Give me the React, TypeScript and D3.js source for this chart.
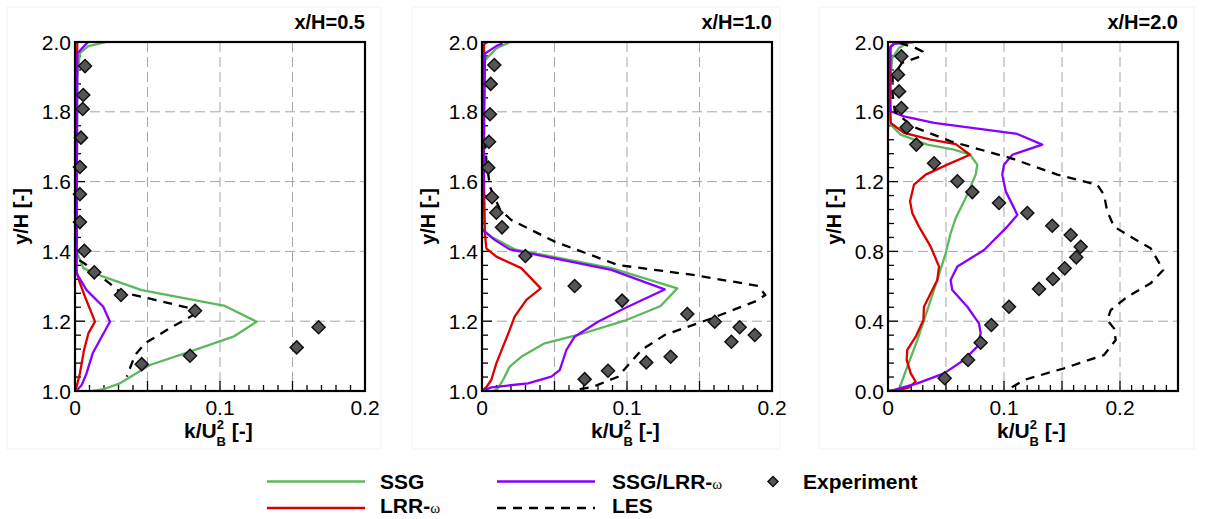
import React from "react";
import * as d3 from "d3";

type Pt = [number, number];

// ---- data: [k/U_B^2, y/H] ----

// x/H = 0.5
const exp05: Pt[] = [
  [0.0069, 1.931], [0.0057, 1.848], [0.0053, 1.808], [0.0041, 1.726], [0.0034, 1.642],
  [0.0034, 1.564], [0.0034, 1.484], [0.0064, 1.402], [0.0133, 1.34], [0.0317, 1.275],
  [0.0828, 1.23], [0.168, 1.1825], [0.1529, 1.125], [0.0793, 1.101], [0.046, 1.077],
];
const ssg05: Pt[] = [
  [0.0218, 2.0], [0.0092, 1.988], [0.0034, 1.968], [0.0016, 1.9], [0.0014, 1.7], [0.0012, 1.5],
  [0.0011, 1.4], [0.0057, 1.352], [0.0195, 1.3275], [0.046, 1.289], [0.1034, 1.2436],
  [0.1253, 1.1986], [0.1092, 1.1556], [0.0793, 1.1126], [0.0517, 1.0745], [0.031, 1.022],
  [0.0195, 1.005], [0.0126, 1.0],
];
const lrr05: Pt[] = [
  [0.0016, 2.0], [0.0012, 1.9], [0.001, 1.6], [0.001, 1.4], [0.0007, 1.347], [0.0034, 1.309],
  [0.0069, 1.27], [0.0138, 1.1986], [0.0092, 1.165], [0.0062, 1.117], [0.0034, 1.051],
  [0.0011, 1.012], [0, 1.0],
];
const hyb05: Pt[] = [
  [0.0092, 2.0], [0.0069, 1.991], [0.0016, 1.967], [0.0014, 1.8], [0.0013, 1.6], [0.0012, 1.45],
  [0.0011, 1.337], [0.008, 1.289], [0.0195, 1.2415], [0.0241, 1.1986], [0.0184, 1.1556],
  [0.0122, 1.108], [0.008, 1.051], [0.0046, 1.017], [0.0011, 1.001],
];
const les05: Pt[] = [
  [0.003, 1.375], [0.008, 1.361], [0.031, 1.2845], [0.0552, 1.261], [0.0793, 1.237],
  [0.0816, 1.2178], [0.0655, 1.18], [0.0483, 1.1367], [0.0414, 1.103], [0.0357, 1.041],
];

// x/H = 1.0
const exp10: Pt[] = [
  [0.0085, 1.934], [0.006, 1.88], [0.0055, 1.793], [0.0048, 1.714], [0.0043, 1.64],
  [0.0069, 1.555], [0.0099, 1.511], [0.0138, 1.469], [0.0299, 1.387], [0.0639, 1.301],
  [0.0966, 1.259], [0.1416, 1.2206], [0.1605, 1.1986], [0.1777, 1.1825], [0.1881, 1.1605],
  [0.172, 1.141], [0.1301, 1.098], [0.1133, 1.082], [0.0869, 1.058], [0.0708, 1.034],
];
const ssg10: Pt[] = [
  [0.0193, 2.0], [0.0101, 1.982], [0.0021, 1.948], [0.0014, 1.8], [0.0012, 1.6], [0, 1.466],
  [0.0064, 1.442], [0.0225, 1.406], [0.0892, 1.352], [0.1347, 1.294], [0.1232, 1.2436],
  [0.0984, 1.2014], [0.0662, 1.1605], [0.0432, 1.1367], [0.0271, 1.098], [0.0191, 1.07],
  [0.0145, 1.0315], [0.011, 1.008], [0.008, 1.0],
];
const lrr10: Pt[] = [
  [0.0037, 2.0], [0.0014, 1.993], [0.0014, 1.8], [0.0014, 1.6], [0.002, 1.45], [0.003, 1.409],
  [0.0099, 1.385], [0.0271, 1.352], [0.0405, 1.294], [0.0306, 1.261], [0.0225, 1.213],
  [0.0191, 1.175], [0.0145, 1.127], [0.0099, 1.079], [0.0064, 1.0315], [0.003, 1.011], [0, 1.0],
];
const hyb10: Pt[] = [
  [0.0143, 1.996], [0.0101, 1.989], [0.0021, 1.967], [0.0014, 1.8], [0.0012, 1.6], [0, 1.463],
  [0.0087, 1.433], [0.0191, 1.406], [0.0892, 1.347], [0.126, 1.291], [0.0984, 1.237],
  [0.08, 1.1986], [0.0639, 1.1556], [0.0582, 1.1175], [0.0536, 1.06], [0.0478, 1.041],
  [0.0317, 1.022], [0.0064, 1.0105], [0, 1.0],
];
const les10: Pt[] = [
  [0.002, 1.72], [0.003, 1.66], [0.0055, 1.585], [0.0124, 1.52], [0.0202, 1.49], [0.0501, 1.428],
  [0.0938, 1.361], [0.1467, 1.332], [0.1903, 1.301], [0.1954, 1.275], [0.1881, 1.256],
  [0.1582, 1.208], [0.126, 1.1605], [0.1099, 1.1175], [0.0938, 1.041], [0.0766, 1.012],
  [0.0639, 1.003],
];

// x/H = 2.0
const exp20: Pt[] = [
  [0.0115, 1.918], [0.0086, 1.813], [0.0095, 1.717], [0.0115, 1.622], [0.0161, 1.511],
  [0.0244, 1.412], [0.0397, 1.305], [0.0598, 1.202], [0.0727, 1.14], [0.0957, 1.077],
  [0.1201, 1.02], [0.1416, 0.947], [0.1575, 0.894], [0.1661, 0.827], [0.1623, 0.766],
  [0.1523, 0.703], [0.1422, 0.642], [0.1302, 0.585], [0.1043, 0.483], [0.0891, 0.378],
  [0.0799, 0.277], [0.069, 0.178], [0.0489, 0.073],
];
const ssg20: Pt[] = [
  [0.0166, 1.994], [0.0095, 1.966], [0.0037, 1.908], [0.002, 1.8], [0.002, 1.6], [0.0023, 1.526],
  [0.0109, 1.469], [0.0339, 1.412], [0.0569, 1.383], [0.0707, 1.354], [0.077, 1.297],
  [0.0756, 1.24], [0.067, 1.106], [0.0584, 0.991], [0.054, 0.904], [0.0497, 0.789],
  [0.0425, 0.636], [0.0339, 0.464], [0.0253, 0.292], [0.0166, 0.139], [0.0109, 0.034],
  [0.0095, 0.002],
];
const lrr20: Pt[] = [
  [0.0066, 2.0], [0.0023, 1.975], [0.002, 1.8], [0.002, 1.6], [0.0023, 1.536], [0.0138, 1.479],
  [0.0368, 1.44], [0.0584, 1.415], [0.0707, 1.354], [0.0511, 1.297], [0.0325, 1.24],
  [0.0224, 1.182], [0.019, 1.087], [0.021, 1.018], [0.0267, 0.942], [0.0368, 0.827],
  [0.044, 0.713], [0.0425, 0.636], [0.0353, 0.54], [0.031, 0.483], [0.0305, 0.407],
  [0.0239, 0.311], [0.0166, 0.235], [0.0161, 0.178], [0.0196, 0.101], [0.0239, 0.053],
  [0.0181, 0.021], [0.008, 0.002],
];
const hyb20: Pt[] = [
  [0.0224, 2.0], [0.0052, 1.989], [0.0017, 1.966], [0.001, 1.8], [0.0012, 1.65], [0.0023, 1.603],
  [0.0138, 1.574], [0.0397, 1.536], [0.1115, 1.473], [0.133, 1.412], [0.1072, 1.354],
  [0.1, 1.297], [0.0985, 1.24], [0.1015, 1.144], [0.1072, 1.068], [0.1115, 1.009],
  [0.1029, 0.942], [0.0828, 0.808], [0.0598, 0.713], [0.054, 0.636], [0.0554, 0.579],
  [0.0684, 0.483], [0.0784, 0.388], [0.0799, 0.331], [0.077, 0.254], [0.0655, 0.178],
  [0.0483, 0.101], [0.0253, 0.044], [0.0052, 0.006], [0, 0],
];
const les20: Pt[] = [
  [0.01, 1.995], [0.024, 1.965], [0.03, 1.945], [0.029, 1.92], [0.012, 1.88], [0.004, 1.8],
  [0.004, 1.7], [0.006, 1.6], [0.021, 1.516], [0.054, 1.431], [0.1057, 1.335], [0.146, 1.24],
  [0.1804, 1.182], [0.1862, 1.125], [0.189, 1.03], [0.1948, 0.942], [0.2092, 0.884],
  [0.2264, 0.818], [0.2373, 0.693], [0.2264, 0.617], [0.2063, 0.54], [0.192, 0.464],
  [0.189, 0.407], [0.1948, 0.359], [0.1963, 0.292], [0.1862, 0.206], [0.1517, 0.13],
  [0.1172, 0.063], [0.1015, 0],
];

// tick labels
const xTickLabels = ["0", "0.1", "0.2"];
const yTickLabelsUpper = ["1.0", "1.2", "1.4", "1.6", "1.8", "2.0"];
const yTickLabelsFull = ["0.0", "0.4", "0.8", "1.2", "1.6", "2.0"];
const titles = ["x/H=0.5", "x/H=1.0", "x/H=2.0"];

// ---- layout ----
const W = 1205;
const H = 519;
const plotTop = 42;
const plotBottom = 391;
const plotW = 290;
const FONT = "'Liberation Sans', Arial, Helvetica, sans-serif";

const C = {
  ssg: "#5cb85c",
  lrr: "#dd0000",
  hyb: "#8800ff",
  les: "#000000",
};

const panels = [
  { title: titles[0], left: 75, xMax: 0.2, yDom: [1, 2], yLabels: yTickLabelsUpper, yMinor: 0.04,
    box: [7, 381], ssg: ssg05, lrr: lrr05, hyb: hyb05, les: les05, exp: exp05 },
  { title: titles[1], left: 482, xMax: 0.2, yDom: [1, 2], yLabels: yTickLabelsUpper, yMinor: 0.04,
    box: [412, 780], ssg: ssg10, lrr: lrr10, hyb: hyb10, les: les10, exp: exp10 },
  { title: titles[2], left: 888, xMax: 0.25, yDom: [0, 2], yLabels: yTickLabelsFull, yMinor: 0.08,
    box: [819, 1194], ssg: ssg20, lrr: lrr20, hyb: hyb20, les: les20, exp: exp20 },
];

const diamond = (r: number) => `M0,${-r}L${r},0L0,${r}L${-r},0Z`;

function Panel({ p, idx }: { p: (typeof panels)[number]; idx: number }) {
  const x = d3.scaleLinear().domain([0, p.xMax]).range([p.left, p.left + plotW]);
  const y = d3.scaleLinear().domain(p.yDom).range([plotBottom, plotTop]);
  const line = d3.line<Pt>().x((d) => x(d[0])).y((d) => y(d[1]));

  const nx = Math.round(p.xMax / 0.01);
  const xMinor = d3.range(0, nx + 1).map((i) => ({ v: i * 0.01, major: i % 5 === 0 }));
  const xGrid = d3.range(1, Math.ceil(p.xMax / 0.05 - 1e-9))
    .map((i) => i * 0.05);
  const ny = Math.round((p.yDom[1] - p.yDom[0]) / p.yMinor);
  const yMinor = d3.range(0, ny + 1).map((i) => p.yDom[0] + i * p.yMinor);
  const yVals = p.yLabels.map((s) => +s);
  const clipId = `clip${idx}`;
  const cx = p.left + plotW / 2;
  const cy = (plotTop + plotBottom) / 2;

  return (
    <g>
      <rect x={p.box[0]} y={7} width={p.box[1] - p.box[0]} height={442} fill="none" stroke="#f3f3f3" strokeWidth={1} />
      <defs>
        <clipPath id={clipId}>
          <rect x={p.left} y={plotTop} width={plotW} height={plotBottom - plotTop} />
        </clipPath>
      </defs>
      {/* grid */}
      <g stroke="#a6a6a6" strokeWidth={1} strokeDasharray="10,5">
        {xGrid.map((v) => (
          <line key={"gx" + v} x1={x(v)} x2={x(v)} y1={plotTop} y2={plotBottom} />
        ))}
        {yVals.slice(1, -1).map((v) => (
          <line key={"gy" + v} x1={p.left} x2={p.left + plotW} y1={y(v)} y2={y(v)} />
        ))}
      </g>
      {/* ticks */}
      <g stroke="#000" strokeWidth={1.3}>
        {xMinor.map((t) => (
          <line key={"tx" + t.v} x1={x(t.v)} x2={x(t.v)} y1={plotBottom} y2={plotBottom - (t.major ? 10 : 6)} />
        ))}
        {yMinor.map((v) => {
          const major = yVals.some((m) => Math.abs(m - v) < 1e-6);
          return <line key={"ty" + v} x1={p.left} x2={p.left + (major ? 10 : 6)} y1={y(v)} y2={y(v)} />;
        })}
      </g>
      {/* curves */}
      <g clipPath={`url(#${clipId})`} fill="none" strokeWidth={2.3} strokeLinejoin="round">
        <path d={line(p.ssg) || ""} stroke={C.ssg} />
        <path d={line(p.lrr) || ""} stroke={C.lrr} />
        <path d={line(p.hyb) || ""} stroke={C.hyb} />
        <path d={line(p.les) || ""} stroke={C.les} strokeDasharray="9,7" />
      </g>
      {p.exp.map((d, i) => (
        <path key={"e" + i} d={diamond(6.5)} transform={`translate(${x(d[0])},${y(d[1])})`}
          fill="#555555" stroke="#111" strokeWidth={1.5} />
      ))}
      <rect x={p.left} y={plotTop} width={plotW} height={plotBottom - plotTop} fill="none" stroke="#000" strokeWidth={2.2} />
      {/* tick labels */}
      <g fontFamily={FONT} fontSize={21} fill="#000">
        {xTickLabels.map((s) => (
          <text key={"lx" + s} x={x(+s)} y={415} textAnchor="middle">{s}</text>
        ))}
        {p.yLabels.map((s) => (
          <text key={"ly" + s} x={p.left - 4} y={y(+s) + 7.5} textAnchor="end">{s}</text>
        ))}
      </g>
      {/* titles */}
      <text x={p.left + plotW} y={29} textAnchor="end" fontFamily={FONT} fontWeight="bold" fontSize={20}>{p.title}</text>
      <text transform={`translate(${p.left - 47},${cy}) rotate(-90)`} textAnchor="middle"
        fontFamily={FONT} fontWeight="bold" fontSize={20}>y/H [-]</text>
      <text x={cx - 36} y={438} fontFamily={FONT} fontWeight="bold" fontSize={21}>
        k/U
        <tspan fontSize={13} dy={-9}>2</tspan>
        <tspan fontSize={13} dx={-7.5} dy={17}>B</tspan>
        <tspan dy={-8}> [-]</tspan>
      </text>
    </g>
  );
}

function Omega() {
  return <tspan fontFamily="'Liberation Serif', 'DejaVu Serif', serif" fontWeight="normal" fontSize={15}>ω</tspan>;
}

export default function App() {
  const r1 = 481.5;
  const r2 = 508;
  return (
    <svg width={W} height={H} style={{ position: "absolute", left: 0, top: 0, background: "#fff" }}>
      <rect width={W} height={H} fill="#fff" />
      {panels.map((p, i) => (
        <Panel key={i} p={p} idx={i} />
      ))}
      {/* legend */}
      <g strokeWidth={2.4}>
        <line x1={267} x2={365} y1={r1} y2={r1} stroke={C.ssg} />
        <line x1={267} x2={365} y1={r2} y2={r2} stroke={C.lrr} />
        <line x1={497} x2={595} y1={r1} y2={r1} stroke={C.hyb} />
        <line x1={497} x2={595} y1={r2} y2={r2} stroke={C.les} strokeDasharray="9,7" />
      </g>
      <path d={diamond(5)} transform={`translate(773,${r1})`} fill="#555555" stroke="#111" strokeWidth={1.5} />
      <g fontFamily={FONT} fontWeight="bold" fontSize={21}>
        <text x={380} y={r1 + 7.5}>SSG</text>
        <text x={380} y={r2 + 5}>LRR-<Omega /></text>
        <text x={612} y={r1 + 7.5}>SSG/LRR-<Omega /></text>
        <text x={612} y={r2 + 5}>LES</text>
        <text x={803} y={r1 + 7.5}>Experiment</text>
      </g>
    </svg>
  );
}
